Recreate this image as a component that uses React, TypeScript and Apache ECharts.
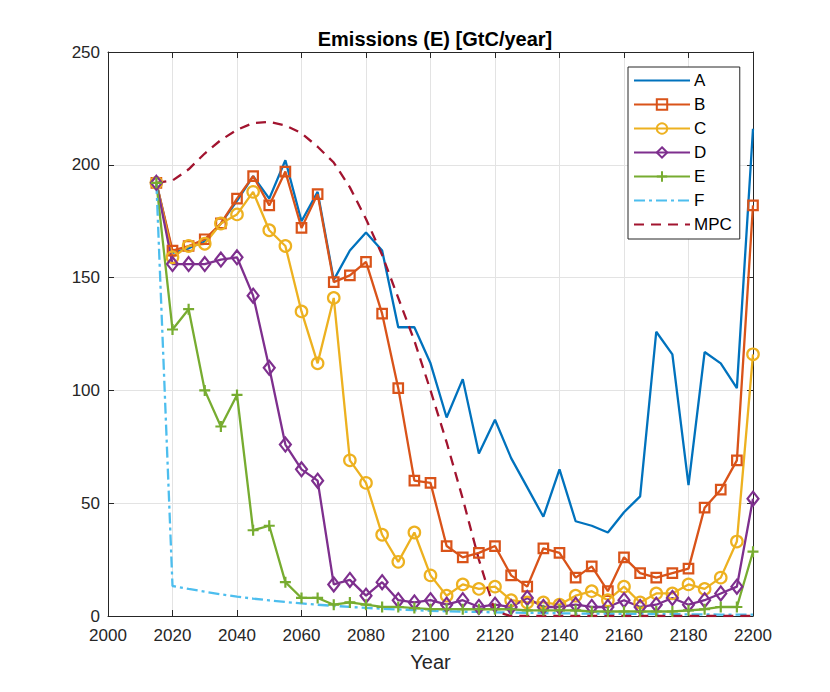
import React, { useEffect, useRef } from "react";
import * as echarts from "echarts";

const years: number[] = [
  2015, 2020, 2025, 2030, 2035, 2040, 2045, 2050, 2055, 2060,
  2065, 2070, 2075, 2080, 2085, 2090, 2095, 2100, 2105, 2110,
  2115, 2120, 2125, 2130, 2135, 2140, 2145, 2150, 2155, 2160,
  2165, 2170, 2175, 2180, 2185, 2190, 2195, 2200,
];

const seriesNames: string[] = ["A", "B", "C", "D", "E", "F", "MPC"];

const valuesA: number[] = [
  192, 161, 163, 166, 174, 184, 195, 185, 202, 175,
  188, 149, 162, 170, 162, 128, 128, 112, 88, 105,
  72, 87, 70, 57, 44, 65, 42, 40, 37, 46,
  53, 126, 116, 58, 117, 112, 101, 216,
];
const valuesB: number[] = [
  192, 162, 164, 167, 174, 185, 195, 182, 197, 172,
  187, 148, 151, 157, 134, 101, 60, 59, 31, 26,
  28, 31, 18, 13, 30, 28, 17, 22, 11, 26,
  19, 17, 19, 21, 48, 56, 69, 182,
];
const valuesC: number[] = [
  192, 159, 164, 165, 174, 178, 188, 171, 164, 135,
  112, 141, 69, 59, 36, 24, 37, 18, 9, 14,
  12, 13, 7, 6, 6, 5, 9, 11, 7, 13,
  6, 10, 10, 14, 12, 17, 33, 116,
];
const valuesD: number[] = [
  192, 156, 156, 156, 158, 159, 142, 110, 76, 65,
  60, 14, 16, 9, 15, 7, 6, 7, 5, 7,
  4, 5, 4, 8, 4, 4, 5, 4, 4, 7,
  4, 5, 8, 5, 7, 10, 13, 52,
];
const valuesE: number[] = [
  192, 127, 136, 100, 84, 98, 38, 40, 15, 8,
  8, 5, 6, 5, 4, 4, 3.5, 3, 3, 3,
  3, 3, 3, 2.5, 2.5, 2.5, 2.5, 2, 2, 2,
  2, 2, 2, 2.5, 3, 4, 4, 28.5,
];
const valuesF: number[] = [
  192, 13.3, 12, 10.8, 9.6, 8.6, 7.7, 6.9, 6.2, 5.6,
  5.0, 4.5, 4.0, 3.6, 3.2, 2.9, 2.6, 2.3, 2.1, 1.9,
  1.8, 1.6, 1.5, 1.4, 1.3, 1.2, 1.1, 1.05, 1.0, 0.95,
  0.9, 0.85, 0.8, 0.75, 0.7, 0.65, 0.6, 0.6,
];
const valuesMPC: number[] = [
  192, 193, 198, 205, 211, 215.5, 218.5, 219, 217.5, 214,
  208, 201, 190, 176, 160, 141, 122, 100, 77, 52,
  25, 2, 0, 0, 0, 0, 0, 0, 0, 0,
  0, 0, 0, 0, 0, 0, 0, 0,
];

const xTicks = { min: 2000, max: 2200, interval: 20 };
const yTicks = { min: 0, max: 250, interval: 50 };

const titleText = "Emissions (E) [GtC/year]";
const xAxisName = "Year";

const FONT = "'Liberation Sans', Arial, Helvetica, sans-serif";
const AXIS_COLOR = "#262626";
const GRID_COLOR = "#e3e3e3";
const LW = 2.3;

const pairs = (vals: number[]) => years.map((y, i) => [y, vals[i]]);

export default function App() {
  const ref = useRef<HTMLDivElement>(null);

  useEffect(() => {
    if (!ref.current) return;
    const chart = echarts.init(ref.current, undefined, { renderer: "svg" });

    const hollow = (c: string) => ({ color: "none", borderColor: c, borderWidth: 2.2 });

    const mk = (name: string, vals: number[], color: string, extra: any) => ({
      name,
      type: "line",
      data: pairs(vals),
      lineStyle: { color, width: LW, ...(extra.lineStyle || {}) },
      itemStyle: extra.itemStyle || { color },
      symbol: extra.symbol || "none",
      symbolSize: extra.symbolSize || 0,
      showSymbol: extra.symbol ? true : false,
      emphasis: { disabled: true },
      silent: true,
      z: 2,
    });

    const series = [
      mk(seriesNames[0], valuesA, "#0072BD", {}),
      mk(seriesNames[1], valuesB, "#D95319", {
        symbol: "rect",
        symbolSize: 9.5,
        itemStyle: hollow("#D95319"),
      }),
      mk(seriesNames[2], valuesC, "#EDB120", {
        symbol: "circle",
        symbolSize: 11.5,
        itemStyle: hollow("#EDB120"),
      }),
      mk(seriesNames[3], valuesD, "#7E2F8E", {
        symbol: "diamond",
        symbolSize: [11, 14],
        itemStyle: hollow("#7E2F8E"),
      }),
      mk(seriesNames[4], valuesE, "#77AC30", {
        symbol: "path://M5,0 L5,10 M0,5 L10,5",
        symbolSize: 11,
        itemStyle: hollow("#77AC30"),
      }),
      mk(seriesNames[5], valuesF, "#4DBEEE", {
        lineStyle: { type: [11, 4, 3, 4] },
      }),
      mk(seriesNames[6], valuesMPC, "#A2142F", {
        lineStyle: { type: [10, 7] },
      }),
    ];

    const noSymbol = new Set(["A", "F", "MPC"]);
    const plainLabel = (v: number) => String(v);

    chart.setOption({
      animation: false,
      textStyle: { fontFamily: FONT },
      title: {
        text: titleText,
        left: 430,
        top: 24,
        textAlign: "center",
        textStyle: { fontSize: 20, fontWeight: "bold", color: "#000", fontFamily: FONT },
      },
      legend: {
        orient: "vertical",
        left: 628,
        top: 67,
        padding: [5, 8, 6, 5],
        itemWidth: 56,
        itemHeight: 13,
        itemGap: 7,
        selectedMode: false,
        backgroundColor: "#fff",
        borderColor: AXIS_COLOR,
        borderWidth: 1,
        borderRadius: 0,
        textStyle: { fontSize: 17, color: "#000", lineHeight: 16, fontFamily: FONT, padding: [0, 0, 0, -1] },
        data: seriesNames.map((n) =>
          noSymbol.has(n) ? { name: n, itemStyle: { opacity: 0 } } : { name: n }
        ),
      },
      grid: { left: 108, right: 77, top: 52, bottom: 76, containLabel: false },
      xAxis: [
        {
          type: "value",
          position: "bottom",
          min: xTicks.min,
          max: xTicks.max,
          interval: xTicks.interval,
          name: xAxisName,
          nameLocation: "middle",
          nameGap: 36,
          nameTextStyle: { fontSize: 20, color: AXIS_COLOR, fontFamily: FONT },
          axisLine: { show: true, onZero: false, lineStyle: { color: AXIS_COLOR, width: 1 } },
          axisTick: { show: true, inside: true, length: 6, lineStyle: { color: AXIS_COLOR } },
          axisLabel: { fontSize: 17, color: AXIS_COLOR, margin: 11, fontFamily: FONT, formatter: plainLabel },
          splitLine: { show: true, lineStyle: { color: GRID_COLOR, width: 1 } },
        },
        {
          type: "value",
          position: "top",
          min: xTicks.min,
          max: xTicks.max,
          interval: xTicks.interval,
          axisLine: { show: true, onZero: false, lineStyle: { color: AXIS_COLOR, width: 1 } },
          axisTick: { show: true, inside: true, length: 6, lineStyle: { color: AXIS_COLOR } },
          axisLabel: { show: false },
          splitLine: { show: false },
        },
      ],
      yAxis: [
        {
          type: "value",
          position: "left",
          min: yTicks.min,
          max: yTicks.max,
          interval: yTicks.interval,
          axisLine: { show: true, onZero: false, lineStyle: { color: AXIS_COLOR, width: 1 } },
          axisTick: { show: true, inside: true, length: 6, lineStyle: { color: AXIS_COLOR } },
          axisLabel: { fontSize: 17, color: AXIS_COLOR, margin: 8, fontFamily: FONT, formatter: plainLabel },
          splitLine: { show: true, lineStyle: { color: GRID_COLOR, width: 1 } },
        },
        {
          type: "value",
          position: "right",
          min: yTicks.min,
          max: yTicks.max,
          interval: yTicks.interval,
          axisLine: { show: true, onZero: false, lineStyle: { color: AXIS_COLOR, width: 1 } },
          axisTick: { show: true, inside: true, length: 6, lineStyle: { color: AXIS_COLOR } },
          axisLabel: { show: false },
          splitLine: { show: false },
        },
      ],
      series,
    });

    return () => chart.dispose();
  }, []);

  return (
    <div
      ref={ref}
      style={{ position: "fixed", left: 0, top: 0, width: 830, height: 692, background: "#fff" }}
    />
  );
}
